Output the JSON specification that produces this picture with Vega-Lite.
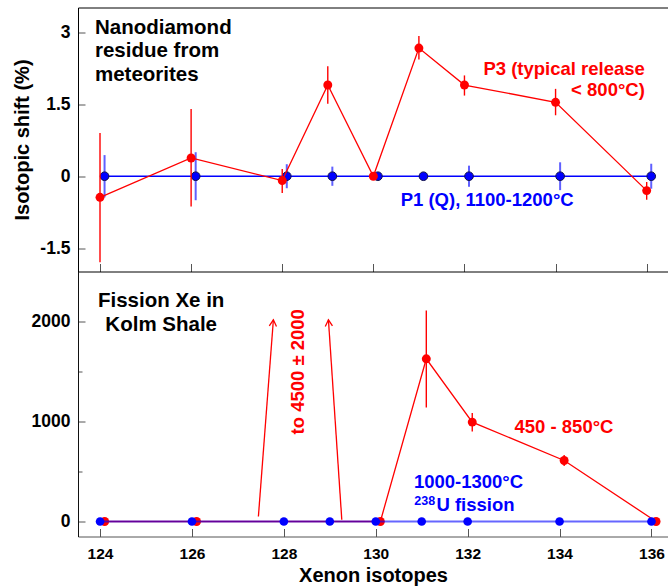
{
  "$schema": "https://vega.github.io/schema/vega-lite/v6.json",
  "background": "white",
  "padding": {"left": 12, "top": 7.5, "right": 0, "bottom": 0},
  "spacing": 0,
  "bounds": "flush",
  "datasets": {
    "topRed": [
      {"x": 124, "y": -0.44, "lo": -1.79, "hi": 0.90},
      {"x": 126, "y": 0.38, "lo": -0.63, "hi": 1.40},
      {"x": 128, "y": -0.09, "lo": -0.35, "hi": 0.15},
      {"x": 129, "y": 1.90, "lo": 1.51, "hi": 2.29},
      {"x": 130, "y": 0.0, "lo": -0.05, "hi": 0.05},
      {"x": 131, "y": 2.67, "lo": 2.43, "hi": 2.92},
      {"x": 132, "y": 1.90, "lo": 1.68, "hi": 2.10},
      {"x": 134, "y": 1.54, "lo": 1.27, "hi": 1.82},
      {"x": 136, "y": -0.30, "lo": -0.49, "hi": -0.12}
    ],
    "topBlue": [
      {"x": 124.1, "y": 0, "lo": -0.44, "hi": 0.44},
      {"x": 126.1, "y": 0, "lo": -0.50, "hi": 0.50},
      {"x": 128.1, "y": 0, "lo": -0.25, "hi": 0.25},
      {"x": 129.1, "y": 0, "lo": -0.20, "hi": 0.20},
      {"x": 130.1, "y": 0, "lo": -0.05, "hi": 0.05},
      {"x": 131.1, "y": 0, "lo": -0.05, "hi": 0.05},
      {"x": 132.1, "y": 0, "lo": -0.22, "hi": 0.22},
      {"x": 134.1, "y": 0, "lo": -0.29, "hi": 0.29},
      {"x": 136.1, "y": 0, "lo": -0.26, "hi": 0.26}
    ],
    "botRed": [
      {"x": 124.1, "y": 0},
      {"x": 126.1, "y": 0},
      {"x": 130.1, "y": 0},
      {"x": 131.1, "y": 1627},
      {"x": 132.1, "y": 994},
      {"x": 134.1, "y": 610},
      {"x": 136.1, "y": 0}
    ],
    "botRedErr": [
      {"x": 131.1, "lo": 1140, "hi": 2110},
      {"x": 132.1, "lo": 900, "hi": 1084},
      {"x": 134.1, "lo": 555, "hi": 665}
    ],
    "botBlue": [
      {"x": 124, "y": 0}, {"x": 126, "y": 0}, {"x": 128, "y": 0},
      {"x": 129, "y": 0}, {"x": 130, "y": 0}, {"x": 131, "y": 0},
      {"x": 132, "y": 0}, {"x": 134, "y": 0}, {"x": 136, "y": 0}
    ],
    "arrows": [
      {"id": 1, "x": 127.446, "y": 50, "x2": 127.772, "y2": 2017},
      {"id": 2, "x": 129.261, "y": 17, "x2": 128.97, "y2": 2017}
    ]
  },
  "vconcat": [
    {
      "width": 590,
      "height": 264,
      "resolve": {"axis": {"x": "independent"}},
      "layer": [
        {
          "layer": [
            {
              "data": {"name": "topBlue"},
              "mark": {"type": "line", "color": "#0000ff", "strokeWidth": 1.6},
              "encoding": {
                "x": {"field": "x", "type": "quantitative",
                  "scale": {"domain": [123.517, 136.468], "nice": false, "zero": false},
                  "axis": {"values": [124, 126, 128, 130, 132, 134, 136], "labels": false, "title": null,
                    "tickSize": -8, "tickColor": "#555", "tickWidth": 1, "domainColor": "#000", "domainWidth": 1}},
                "y": {"field": "y", "type": "quantitative",
                  "scale": {"domain": [-1.985, 3.515], "nice": false, "zero": false},
                  "axis": {"values": [-1.5, 0, 1.5, 3], "labelExpr": "toString(datum.value)",
                    "title": "Isotopic shift (%)", "titleFontSize": 20, "titlePadding": 7,
                    "labelFontSize": 17.5, "labelPadding": 15, "tickSize": -7, "tickColor": "#555",
                    "domainColor": "#000"}}
              }
            },
            {
              "data": {"name": "topBlue"},
              "mark": {"type": "rule", "color": "#2b2bff", "opacity": 0.75, "strokeWidth": 2},
              "encoding": {
                "x": {"field": "x", "type": "quantitative"},
                "y": {"field": "lo", "type": "quantitative"},
                "y2": {"field": "hi"}
              }
            },
            {
              "data": {"name": "topBlue"},
              "mark": {"type": "point", "filled": true, "fill": "#0000ff", "stroke": "#10104a", "strokeWidth": 1, "size": 75, "opacity": 1},
              "encoding": {
                "x": {"field": "x", "type": "quantitative"},
                "y": {"field": "y", "type": "quantitative"}
              }
            },
            {
              "data": {"name": "topRed"},
              "mark": {"type": "line", "color": "#ff0000", "strokeWidth": 1.3},
              "encoding": {
                "x": {"field": "x", "type": "quantitative"},
                "y": {"field": "y", "type": "quantitative"}
              }
            },
            {
              "data": {"name": "topRed"},
              "mark": {"type": "rule", "color": "#ff0000", "strokeWidth": 1.4},
              "encoding": {
                "x": {"field": "x", "type": "quantitative"},
                "y": {"field": "lo", "type": "quantitative"},
                "y2": {"field": "hi"}
              }
            },
            {
              "data": {"name": "topRed"},
              "mark": {"type": "point", "filled": true, "color": "#ff0000", "size": 80, "opacity": 1},
              "encoding": {
                "x": {"field": "x", "type": "quantitative"},
                "y": {"field": "y", "type": "quantitative"}
              }
            },
            {
              "data": {"values": [{"x": 135.96, "y": 2.119, "text": "P3 (typical release\n< 800°C)"}]},
              "mark": {"type": "text", "color": "#ff0000", "font": "Liberation Sans", "fontWeight": "bold", "fontSize": 18.5,
                "align": "right", "baseline": "alphabetic", "lineBreak": "\n", "lineHeight": 21},
              "encoding": {
                "x": {"field": "x", "type": "quantitative"},
                "y": {"field": "y", "type": "quantitative"},
                "text": {"field": "text"}
              }
            },
            {
              "data": {"values": [{"x": 130.60, "y": -0.61, "text": "P1 (Q), 1100-1200°C"}]},
              "mark": {"type": "text", "color": "#0000ff", "font": "Liberation Sans", "fontWeight": "bold", "fontSize": 18.5,
                "align": "left", "baseline": "alphabetic"},
              "encoding": {
                "x": {"field": "x", "type": "quantitative"},
                "y": {"field": "y", "type": "quantitative"},
                "text": {"field": "text"}
              }
            }
          ]
        },
        {
          "data": {"values": [{"x": 123.89, "y": 2.967, "text": "Nanodiamond\nresidue from\nmeteorites"}]},
          "mark": {"type": "text", "color": "#000", "font": "Liberation Sans", "fontWeight": "bold", "fontSize": 20.5,
            "align": "left", "baseline": "alphabetic", "lineBreak": "\n", "lineHeight": 23.5},
          "encoding": {
            "x": {"field": "x", "type": "quantitative",
              "axis": {"orient": "top", "ticks": false, "labels": false, "title": null, "domainColor": "#000", "domainWidth": 1}},
            "y": {"field": "y", "type": "quantitative"},
            "text": {"field": "text"}
          }
        }
      ]
    },
    {
      "width": 590,
      "height": 265,
      "layer": [
        {
          "data": {"name": "botRed"},
          "mark": {"type": "line", "color": "#ff0000", "strokeWidth": 1.3},
          "encoding": {
            "x": {"field": "x", "type": "quantitative",
              "scale": {"domain": [123.52, 136.36], "nice": false, "zero": false},
              "axis": {"values": [124, 126, 128, 130, 132, 134, 136], "title": "Xenon isotopes",
                "titleFontSize": 20, "titlePadding": 3, "labelFontSize": 15.5, "labelPadding": 18,
                "tickSize": -8, "tickColor": "#555", "domainColor": "#555"}},
            "y": {"field": "y", "type": "quantitative",
              "scale": {"domain": [-150, 2500], "nice": false, "zero": false},
              "axis": {"values": [0, 500, 1000, 1500, 2000],
                "labelExpr": "datum.value % 1000 === 0 ? toString(datum.value) : ''",
                "title": null, "labelFontSize": 17.5, "labelPadding": 15,
                "tickSize": {"condition": {"test": "datum.value % 1000 === 0", "value": -7}, "value": -4},
                "tickColor": "#555", "domainColor": "#111"}}
          }
        },
        {
          "data": {"name": "botRedErr"},
          "mark": {"type": "rule", "color": "#ff0000", "strokeWidth": 1.4},
          "encoding": {
            "x": {"field": "x", "type": "quantitative"},
            "y": {"field": "lo", "type": "quantitative"},
            "y2": {"field": "hi"}
          }
        },
        {
          "data": {"name": "botRed"},
          "mark": {"type": "point", "filled": true, "color": "#ff0000", "size": 80, "opacity": 1},
          "encoding": {
            "x": {"field": "x", "type": "quantitative"},
            "y": {"field": "y", "type": "quantitative"}
          }
        },
        {
          "data": {"name": "arrows"},
          "mark": {"type": "rule", "color": "#ff0000", "strokeWidth": 1.3},
          "encoding": {
            "x": {"field": "x", "type": "quantitative"},
            "y": {"field": "y", "type": "quantitative"},
            "x2": {"field": "x2"},
            "y2": {"field": "y2"}
          }
        },
        {
          "data": {"name": "arrows"},
          "transform": [{"filter": "datum.id === 1"}],
          "mark": {"type": "point", "shape": "M-0.9,1.6L0,0L0.9,1.6", "filled": false, "color": "#ff0000",
            "strokeWidth": 1.3, "size": 64, "angle": 4.4, "opacity": 1},
          "encoding": {
            "x": {"field": "x2", "type": "quantitative"},
            "y": {"field": "y2", "type": "quantitative"}
          }
        },
        {
          "data": {"name": "arrows"},
          "transform": [{"filter": "datum.id === 2"}],
          "mark": {"type": "point", "shape": "M-0.9,1.6L0,0L0.9,1.6", "filled": false, "color": "#ff0000",
            "strokeWidth": 1.3, "size": 64, "angle": -3.9, "opacity": 1},
          "encoding": {
            "x": {"field": "x2", "type": "quantitative"},
            "y": {"field": "y2", "type": "quantitative"}
          }
        },
        {
          "data": {"name": "botBlue"},
          "mark": {"type": "line", "color": "#0000ff", "strokeWidth": 2, "opacity": 0.6},
          "encoding": {
            "x": {"field": "x", "type": "quantitative"},
            "y": {"field": "y", "type": "quantitative"}
          }
        },
        {
          "data": {"name": "botBlue"},
          "mark": {"type": "point", "filled": true, "color": "#0000ff", "size": 75, "opacity": 1},
          "encoding": {
            "x": {"field": "x", "type": "quantitative"},
            "y": {"field": "y", "type": "quantitative"}
          }
        },
        {
          "data": {"values": [{"x": 125.33, "y": 2150, "text": "Fission Xe in\nKolm Shale"}]},
          "mark": {"type": "text", "color": "#000", "font": "Liberation Sans", "fontWeight": "bold", "fontSize": 20.5,
            "align": "center", "baseline": "alphabetic", "lineBreak": "\n", "lineHeight": 24},
          "encoding": {
            "x": {"field": "x", "type": "quantitative"},
            "y": {"field": "y", "type": "quantitative"},
            "text": {"field": "text"}
          }
        },
        {
          "data": {"values": [{"x": 133.02, "y": 890, "text": "450 - 850°C"}]},
          "mark": {"type": "text", "color": "#ff0000", "font": "Liberation Sans", "fontWeight": "bold", "fontSize": 18.5,
            "align": "left", "baseline": "alphabetic"},
          "encoding": {
            "x": {"field": "x", "type": "quantitative"},
            "y": {"field": "y", "type": "quantitative"},
            "text": {"field": "text"}
          }
        },
        {
          "data": {"values": [{"x": 128.30, "y": 1497, "text": "to 4500 ± 2000"}]},
          "mark": {"type": "text", "color": "#ff0000", "font": "Liberation Sans", "fontWeight": "bold", "fontSize": 18.5,
            "align": "center", "baseline": "middle", "angle": 270},
          "encoding": {
            "x": {"field": "x", "type": "quantitative"},
            "y": {"field": "y", "type": "quantitative"},
            "text": {"field": "text"}
          }
        },
        {
          "data": {"values": [{"x": 130.83, "y": 334, "text": "1000-1300°C"}, {"x": 131.32, "y": 110, "text": "U fission"}]},
          "mark": {"type": "text", "color": "#0000ff", "font": "Liberation Sans", "fontWeight": "bold", "fontSize": 18.5,
            "align": "left", "baseline": "alphabetic"},
          "encoding": {
            "x": {"field": "x", "type": "quantitative"},
            "y": {"field": "y", "type": "quantitative"},
            "text": {"field": "text"}
          }
        },
        {
          "data": {"values": [{"x": 130.84, "y": 165, "text": "238"}]},
          "mark": {"type": "text", "color": "#0000ff", "font": "Liberation Sans", "fontWeight": "bold", "fontSize": 12.5,
            "align": "left", "baseline": "alphabetic"},
          "encoding": {
            "x": {"field": "x", "type": "quantitative"},
            "y": {"field": "y", "type": "quantitative"},
            "text": {"field": "text"}
          }
        }
      ]
    }
  ],
  "config": {
    "view": {"stroke": null},
    "font": "Liberation Sans",
    "axis": {
      "labelFont": "Liberation Sans", "labelFontWeight": "bold", "labelColor": "#000",
      "titleFont": "Liberation Sans", "titleFontWeight": "bold", "titleColor": "#000",
      "grid": false
    }
  }
}
